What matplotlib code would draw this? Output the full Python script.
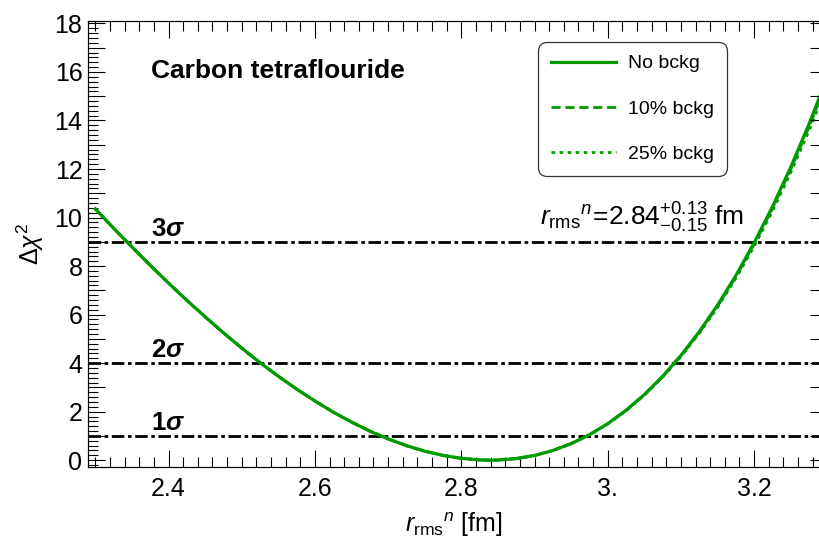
import matplotlib
matplotlib.use("Agg")
import matplotlib.pyplot as plt
from matplotlib.ticker import MultipleLocator, FuncFormatter

plt.rcParams['font.family'] = ['Liberation Sans', 'DejaVu Sans']
plt.rcParams['mathtext.fontset'] = 'custom'
plt.rcParams['mathtext.rm'] = 'Liberation Sans'
plt.rcParams['mathtext.it'] = 'Liberation Sans:italic'
plt.rcParams['mathtext.bf'] = 'Liberation Sans:bold'
plt.rcParams['mathtext.bfit'] = 'Liberation Sans:bold:italic'

# radius scan (fm) and delta chi^2 for the three background assumptions
r_rms = [2.300, 2.325, 2.350, 2.375, 2.400, 2.425, 2.450, 2.475, 2.500, 2.525,
         2.550, 2.575, 2.600, 2.625, 2.650, 2.675, 2.700, 2.725, 2.750, 2.775,
         2.800, 2.825, 2.840, 2.850, 2.875, 2.900, 2.925, 2.950, 2.975, 3.000,
         3.025, 3.050, 3.075, 3.100, 3.125, 3.150, 3.175, 3.200, 3.225, 3.250,
         3.275, 3.300]
chi2_nobkg = [10.36, 9.56, 8.79, 8.03, 7.30, 6.59, 5.91, 5.25, 4.62, 4.02,
              3.46, 2.93, 2.44, 1.98, 1.57, 1.20, 0.876, 0.599, 0.372, 0.196,
              0.0755, 0.0108, 0.0, 0.0052, 0.0647, 0.194, 0.398, 0.682, 1.049, 1.505,
              2.055, 2.703, 3.455, 4.316, 5.292, 6.387, 7.607, 8.958, 10.446, 12.076,
              13.854, 15.785]
chi2_bkg10 = [10.36, 9.56, 8.79, 8.03, 7.30, 6.59, 5.91, 5.25, 4.62, 4.02,
              3.46, 2.93, 2.44, 1.98, 1.57, 1.20, 0.876, 0.599, 0.372, 0.196,
              0.0755, 0.0108, 0.0, 0.0052, 0.0647, 0.1938, 0.3973, 0.6805, 1.045, 1.500,
              2.047, 2.692, 3.439, 4.294, 5.256, 6.347, 7.556, 8.893, 10.37, 11.98,
              13.73, 15.64]
chi2_bkg25 = [10.36, 9.56, 8.79, 8.03, 7.30, 6.59, 5.91, 5.25, 4.62, 4.02,
              3.46, 2.93, 2.44, 1.98, 1.57, 1.20, 0.876, 0.599, 0.372, 0.196,
              0.0755, 0.0108, 0.0, 0.0052, 0.0646, 0.1935, 0.3965, 0.6786, 1.043, 1.494,
              2.038, 2.677, 3.418, 4.265, 5.224, 6.298, 7.492, 8.813, 10.26, 11.85,
              13.58, 15.46]
sigma_levels = [1, 4, 9]
sigma_names = ['1', '2', '3']

green = '#009a00'

fig = plt.figure(figsize=(8.2, 5.47), dpi=100)
ax = fig.add_axes([0.1073, 0.1463, 0.8927, 0.8153])

ax.plot(r_rms, chi2_nobkg, color=green, lw=2.3, label='No bckg')
ax.plot(r_rms, chi2_bkg10, color=green, lw=2.0, ls=(0, (3.3, 1.7)), label='10% bckg')
ax.plot(r_rms, chi2_bkg25, color=green, lw=2.0, ls=(0, (1.3, 1.6)), label='25% bckg')

for lev, name in zip(sigma_levels, sigma_names):
    ax.axhline(lev, color='black', lw=2.0, ls=(0, (4.5, 1.3, 1.3, 1.3)), zorder=1)
    ax.text(2.376, lev + 0.25, r'$\mathbf{' + name + r'}\mathbfit{\sigma}$',
            fontsize=18.5, va='baseline', ha='left')

ax.text(2.376, 16.05, 'Carbon tetraflouride', fontsize=19, fontweight='bold',
        va='center', ha='left')
ax.text(2.908, 9.67, r'$r_{\rm rms}{}^{n}\!=\!2.84^{+0.13}_{-0.15}$ fm',
        fontsize=19, va='baseline', ha='left')

ax.set_xlim(2.29, 3.29)
ax.set_ylim(-0.28, 18.1)

ax.xaxis.set_major_locator(MultipleLocator(0.2))
ax.xaxis.set_minor_locator(MultipleLocator(0.02))
ax.yaxis.set_major_locator(MultipleLocator(1))
ax.yaxis.set_minor_locator(MultipleLocator(0.2))


def xfmt(v, pos):
    s = f'{v:.1f}'
    return s[:-1] if s.endswith('.0') else s


def yfmt(v, pos):
    n = int(round(v))
    return str(n) if n % 2 == 0 else ''


ax.xaxis.set_major_formatter(FuncFormatter(xfmt))
ax.yaxis.set_major_formatter(FuncFormatter(yfmt))
ax.tick_params(which='both', direction='in', top=True, right=False, width=0.8,
               labelsize=18)
ax.tick_params(which='major', length=12.5)
ax.tick_params(which='minor', length=7.5)
ax.tick_params(axis='x', pad=7)
ax.tick_params(axis='y', pad=4)

# right-hand frame only carries unit ticks
axr = ax.twinx()
axr.set_ylim(ax.get_ylim())
axr.yaxis.set_major_locator(MultipleLocator(1))
axr.tick_params(direction='in', length=7.5, width=0.8, labelright=False)

for a in (ax, axr):
    for sp in a.spines.values():
        sp.set_linewidth(0.8)

ax.set_xlabel(r'$r_{\rm rms}{}^{n}$ [fm]', fontsize=18, labelpad=7)
ax.set_ylabel(r'$\Delta\chi^{2}$', fontsize=18, labelpad=6)

leg = ax.legend(loc='upper left', bbox_to_anchor=(0.615, 0.953), borderaxespad=0,
                fontsize=14, handlelength=3.35, labelspacing=1.43,
                handletextpad=0.6, borderpad=0.66, fancybox=True, framealpha=1)
frame = leg.get_frame()
frame.set_edgecolor('#333333')
frame.set_linewidth(0.9)
frame.set_boxstyle('round', pad=0, rounding_size=0.45)

fig.savefig('out.png', dpi=100)
